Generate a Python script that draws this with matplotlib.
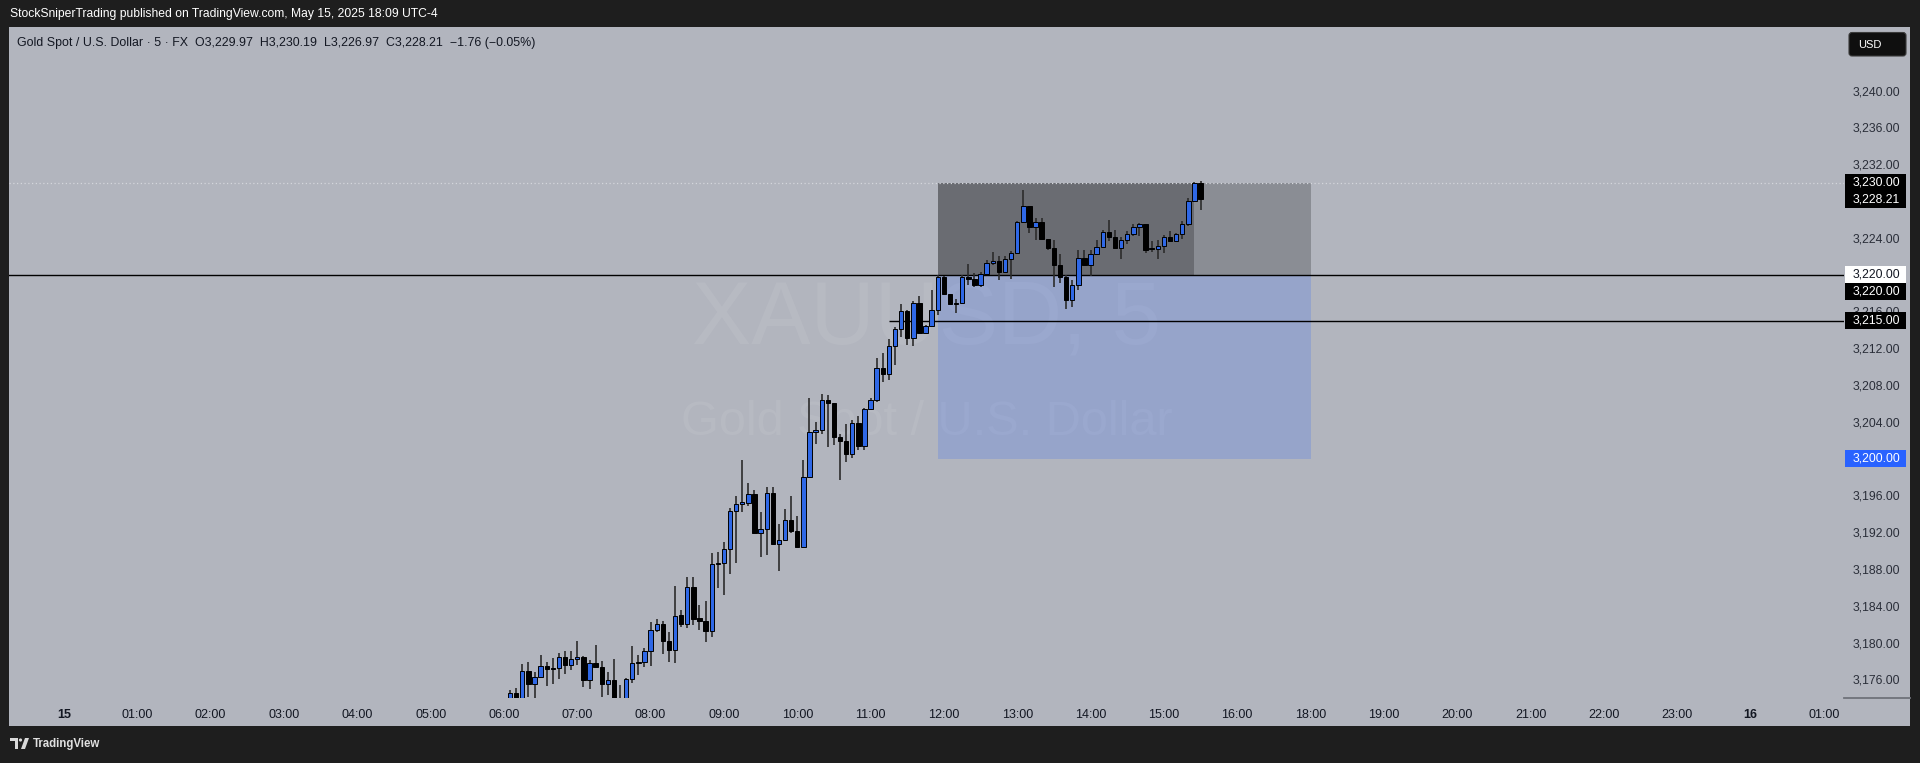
import matplotlib
matplotlib.use("Agg")
import matplotlib.pyplot as plt
import matplotlib.transforms as mtransforms
from matplotlib.patches import Rectangle, FancyBboxPatch, Polygon, Circle
import numpy as np

plt.rcParams['font.family'] = ['Liberation Sans', 'DejaVu Sans']

# ---------------- data ----------------
times = [
    "06:05", "06:10", "06:15", "06:20", "06:25", "06:30", "06:35", "06:40", "06:45", "06:50", "06:55",
    "07:00", "07:05", "07:10", "07:15", "07:20", "07:25", "07:30", "07:35", "07:40", "07:45", "07:50", "07:55",
    "08:00", "08:05", "08:10", "08:15", "08:20", "08:25", "08:30", "08:35", "08:40", "08:45", "08:50", "08:55",
    "09:00", "09:05", "09:10", "09:15", "09:20", "09:25", "09:30", "09:35", "09:40", "09:45", "09:50", "09:55",
    "10:00", "10:05", "10:10", "10:15", "10:20", "10:25", "10:30", "10:35", "10:40", "10:45", "10:50", "10:55",
    "11:00", "11:05", "11:10", "11:15", "11:20", "11:25", "11:30", "11:35", "11:40", "11:45", "11:50", "11:55",
    "12:00", "12:05", "12:10", "12:15", "12:20", "12:25", "12:30", "12:35", "12:40", "12:45", "12:50", "12:55",
    "13:00", "13:05", "13:10", "13:15", "13:20", "13:25", "13:30", "13:35", "13:40", "13:45", "13:50", "13:55",
    "14:00", "14:05", "14:10", "14:15", "14:20", "14:25", "14:30", "14:35", "14:40", "14:45", "14:50", "14:55",
    "15:00", "15:05", "15:10", "15:15", "15:20", "15:25", "15:30",
]
opens = [
    3173.6, 3174.5, 3173.6, 3176.9, 3175.5, 3176.3, 3177.5, 3177.2, 3177.2, 3178.4, 3177.6,
    3178.2, 3178.4, 3175.9, 3177.8, 3177.4, 3175.5, 3175.9, 3173.6, 3173.0, 3176.05, 3177.8, 3177.9,
    3179.1, 3181.4, 3182.0, 3180.2, 3179.2, 3183.0, 3182.0, 3186.0, 3182.7, 3182.3, 3181.3, 3188.5,
    3188.7, 3190.2, 3194.3, 3195.1, 3195.2, 3196.2, 3191.9, 3192.3, 3196.3, 3190.7, 3191.2, 3193.3,
    3192.1, 3190.4, 3198.0, 3202.9, 3203.1, 3206.4, 3206.0, 3202.3, 3201.9, 3200.5, 3203.9, 3201.4,
    3205.4, 3206.4, 3209.9, 3209.2, 3212.2, 3214.1, 3216.0, 3213.1, 3216.9, 3213.7, 3214.4, 3216.2,
    3219.7, 3217.9, 3216.8, 3216.9, 3219.7, 3219.5, 3218.9, 3220.1, 3221.3, 3221.5, 3220.3, 3221.7,
    3222.4, 3225.7, 3227.5, 3225.2, 3225.7, 3223.9, 3222.9, 3221.0, 3219.7, 3217.2, 3218.9, 3221.8,
    3221.0, 3222.2, 3223.0, 3224.6, 3224.1, 3222.9, 3223.8, 3224.4, 3225.2, 3225.5, 3222.85, 3222.8,
    3223.1, 3224.1, 3223.7, 3224.4, 3225.5, 3228.0, 3229.97,
]
highs = [
    3174.9, 3175.1, 3177.7, 3177.9, 3176.8, 3178.7, 3177.9, 3178.3, 3178.9, 3179.1, 3179.1,
    3180.2, 3178.5, 3178.1, 3179.7, 3178.0, 3176.8, 3178.2, 3175.4, 3176.1, 3179.6, 3178.7, 3179.4,
    3182.2, 3182.6, 3182.3, 3181.2, 3186.1, 3183.5, 3187.1, 3187.1, 3184.1, 3184.5, 3189.7, 3189.8,
    3190.9, 3194.6, 3195.9, 3199.8, 3197.3, 3196.6, 3194.2, 3196.9, 3196.9, 3192.9, 3194.5, 3195.9,
    3193.8, 3199.9, 3206.6, 3204.0, 3207.0, 3206.9, 3206.0, 3202.7, 3203.8, 3204.2, 3204.6, 3205.5,
    3206.6, 3210.9, 3211.5, 3213.0, 3214.3, 3216.8, 3216.2, 3217.1, 3217.7, 3214.5, 3218.3, 3220.0,
    3219.8, 3217.9, 3217.4, 3220.0, 3221.2, 3220.2, 3220.3, 3221.6, 3222.5, 3222.0, 3222.0, 3222.6,
    3225.8, 3229.2, 3227.5, 3226.2, 3226.2, 3223.9, 3223.8, 3222.2, 3220.0, 3219.4, 3222.7, 3222.7,
    3222.7, 3223.8, 3224.9, 3225.9, 3224.9, 3224.1, 3224.7, 3225.5, 3225.6, 3225.5, 3223.6, 3223.8,
    3224.3, 3224.7, 3224.5, 3225.8, 3228.3, 3230.1, 3230.19,
]
lows = [
    3173.2, 3173.2, 3173.4, 3174.1, 3173.9, 3176.1, 3175.3, 3175.5, 3176.0, 3176.6, 3177.0,
    3177.6, 3175.2, 3175.0, 3177.2, 3174.1, 3174.3, 3173.2, 3172.6, 3172.8, 3175.6, 3176.5, 3177.3,
    3177.5, 3181.2, 3178.8, 3177.9, 3177.8, 3181.7, 3181.6, 3181.9, 3181.4, 3180.1, 3180.6, 3185.9,
    3185.2, 3187.5, 3188.7, 3194.2, 3194.9, 3191.8, 3189.3, 3189.5, 3190.6, 3187.8, 3191.0, 3191.9,
    3190.4, 3190.4, 3198.0, 3201.6, 3202.7, 3201.3, 3201.5, 3197.7, 3199.6, 3200.1, 3200.9, 3200.9,
    3205.3, 3206.2, 3208.3, 3208.5, 3210.2, 3213.2, 3212.3, 3212.2, 3213.6, 3213.6, 3214.3, 3215.6,
    3217.8, 3216.8, 3215.8, 3216.8, 3218.9, 3218.6, 3218.6, 3220.1, 3221.0, 3219.4, 3220.2, 3219.5,
    3222.3, 3225.6, 3224.5, 3223.8, 3223.8, 3222.7, 3218.6, 3219.1, 3216.3, 3216.5, 3218.3, 3220.9,
    3219.8, 3222.1, 3222.9, 3223.7, 3222.9, 3221.7, 3223.3, 3224.2, 3224.2, 3222.4, 3222.5, 3221.7,
    3222.3, 3223.6, 3223.5, 3223.9, 3225.3, 3227.9, 3226.97,
]
closes = [
    3174.5, 3173.6, 3176.9, 3175.5, 3176.3, 3177.5, 3177.1, 3177.1, 3178.4, 3177.6, 3178.2,
    3178.4, 3175.9, 3177.8, 3177.4, 3175.5, 3175.9, 3173.7, 3173.0, 3176.05, 3177.8, 3177.9, 3179.1,
    3181.4, 3182.0, 3180.2, 3179.2, 3182.9, 3182.0, 3186.0, 3182.6, 3182.3, 3181.3, 3188.5, 3188.7,
    3190.2, 3194.3, 3195.1, 3195.3, 3196.2, 3191.9, 3192.3, 3196.3, 3190.7, 3191.2, 3193.3, 3192.1,
    3190.4, 3198.0, 3202.9, 3203.1, 3206.4, 3206.0, 3202.3, 3201.9, 3200.5, 3203.9, 3201.4, 3205.4,
    3206.4, 3209.9, 3209.2, 3212.2, 3214.1, 3216.0, 3213.1, 3216.9, 3213.7, 3214.4, 3216.2, 3219.7,
    3217.9, 3216.8, 3216.9, 3219.7, 3219.5, 3218.9, 3220.1, 3221.3, 3221.5, 3220.3, 3221.7, 3222.4,
    3225.7, 3227.5, 3225.2, 3225.7, 3223.9, 3222.9, 3221.0, 3219.7, 3217.2, 3218.9, 3221.8, 3221.0,
    3222.2, 3223.0, 3224.6, 3224.1, 3222.9, 3223.8, 3224.4, 3225.2, 3225.5, 3222.7, 3222.75, 3223.1,
    3224.1, 3223.7, 3224.4, 3225.5, 3228.0, 3229.97, 3228.21,
]

tick_hours = [0, 1, 2, 3, 4, 5, 6, 7, 8, 9, 10, 11, 12, 13, 14, 15, 16, 18, 19, 20, 21, 22, 23, 24, 25]
tick_labels = ["15", "01:00", "02:00", "03:00", "04:00", "05:00", "06:00", "07:00", "08:00", "09:00",
               "10:00", "11:00", "12:00", "13:00", "14:00", "15:00", "16:00", "18:00", "19:00", "20:00",
               "21:00", "22:00", "23:00", "16", "01:00"]
price_ticks = [3176, 3180, 3184, 3188, 3192, 3196, 3200, 3204, 3208, 3212, 3216, 3220, 3224, 3228,
               3232, 3236, 3240]

target_price = 3230.0
entry_price = 3220.0
stop_price = 3200.0
level_price = 3215.0
last_close = 3228.21
position_start = "11:55"
target_hit = "15:25"
position_end_hour = 18
level_start = "11:15"

header = "StockSniperTrading published on TradingView.com, May 15, 2025 18:09 UTC-4"
legend = "Gold Spot / U.S. Dollar \u00b7 5 \u00b7 FX  O3,229.97  H3,230.19  L3,226.97  C3,228.21  \u22121.76 (\u22120.05%)"

# ---------------- styling ----------------
W, H = 1920, 763
BG = '#b2b5be'
DARK = '#1e1e1e'
BLUE = '#2f68e6'
WICK = '#2c2c2c'


def slot_of_time(t):
    h, m = map(int, t.split(':'))
    return (h * 60 + m) // 5 - (12 if h >= 17 else 0)


def slot_of_hour(h):
    return h * 12 - (12 if h >= 17 else 0)


fig = plt.figure(figsize=(W / 100, H / 100), dpi=100, facecolor=DARK)


def fx(px):
    return px / W


def fy(py):
    return 1 - py / H


fig.add_artist(Rectangle((fx(9), fy(726)), fx(1910) - fx(9), fy(27) - fy(726),
                         transform=fig.transFigure, facecolor=BG, edgecolor='none', zorder=-5))

ax = fig.add_axes([fx(9), fy(698), fx(1844) - fx(9), fy(27) - fy(698)])
ax.set_facecolor(BG)
for s in ax.spines.values():
    s.set_visible(False)

ax.set_xlim(-9.0, 291.3)
ax.set_ylim(3173.98, 3246.91)

# watermark
ax.text(0.5, 0.562, "XAUUSD, 5", transform=ax.transAxes, ha='center', va='center',
        fontsize=64, color='white', alpha=0.07, zorder=0)
ax.text(0.5, 0.411, "Gold Spot / U.S. Dollar", transform=ax.transAxes, ha='center', va='center',
        fontsize=35, color='white', alpha=0.07, zorder=0)

# position tool boxes
x0 = slot_of_time(position_start)
xh = slot_of_time(target_hit)
x1 = slot_of_hour(position_end_hour)
ax.add_patch(Rectangle((x0, entry_price), xh - x0, target_price - entry_price,
                       facecolor='black', alpha=0.40, edgecolor='none', zorder=1))
ax.add_patch(Rectangle((xh, entry_price), x1 - xh, target_price - entry_price,
                       facecolor='black', alpha=0.22, edgecolor='none', zorder=1))
ax.add_patch(Rectangle((x0, stop_price), x1 - x0, entry_price - stop_price,
                       facecolor='#2962ff', alpha=0.20, edgecolor='none', zorder=1))

# lines
ax.axhline(target_price, color='#d4d6dc', lw=0.9, ls=(0, (1, 2)), zorder=2)
ax.axhline(entry_price, color='black', lw=1.0, zorder=2)
ax.hlines(level_price, slot_of_time(level_start), 291.3, color='black', lw=1.0, zorder=2)

# candles
x = np.array([slot_of_time(t) for t in times])
o = np.array(opens)
hi = np.array(highs)
lo = np.array(lows)
c = np.array(closes)
up = c >= o
body_bot = np.minimum(o, c)
body_h = np.maximum(np.abs(c - o), 0.12)
ax.vlines(x, lo, hi, color=WICK, lw=1.2, zorder=3)
ax.bar(x, body_h, bottom=body_bot, width=0.72,
       color=np.where(up, BLUE, 'black'), edgecolor='black', linewidth=0.7, zorder=4)

# axes ticks
ax.set_xticks([slot_of_hour(h) for h in tick_hours])
ax.set_xticklabels(tick_labels)
ax.tick_params(axis='x', length=0, pad=8, labelsize=9, labelcolor='#131722')
for lab in ax.get_xticklabels():
    if ':' not in lab.get_text():
        lab.set_fontweight('bold')

ax.yaxis.tick_right()
ax.set_yticks(price_ticks)
ax.set_yticklabels([f"{p:,.2f}" for p in price_ticks])
ax.tick_params(axis='y', length=0, pad=6.5, labelsize=8.8, labelcolor='#2a2e39')

# price tags
trans = mtransforms.blended_transform_factory(ax.transAxes, ax.transData)
axw = 1844 - 9
tag_x0 = (1845 - 9) / axw
tag_w = 61 / axw
tag_tx = (1853 - 9) / axw
tag_h = 17 / 9.2


def price_tag(yc, value, fc, tc):
    ax.add_patch(Rectangle((tag_x0, yc - tag_h / 2), tag_w, tag_h, transform=trans,
                           facecolor=fc, edgecolor='none', clip_on=False, zorder=6))
    ax.text(tag_tx, yc, f"{value:,.2f}", transform=trans, color=tc, fontsize=8.8,
            va='center', ha='left', clip_on=False, zorder=7)


price_tag(target_price, target_price, 'black', 'white')
price_tag(last_close, last_close, 'black', 'white')
price_tag(entry_price, entry_price, 'white', '#131722')
price_tag(entry_price - tag_h, entry_price, 'black', 'white')
price_tag(level_price, level_price, 'black', 'white')
price_tag(stop_price, stop_price, '#2962ff', 'white')

# overlay in pixel coordinates
ov = fig.add_axes([0, 0, 1, 1], zorder=10)
ov.set_xlim(0, W)
ov.set_ylim(H, 0)
ov.axis('off')
ov.patch.set_alpha(0)

ov.text(10, 13.5, header, color='white', fontsize=8.7, va='center', ha='left')
ov.text(17, 43, legend, color='#131722', fontsize=8.9, va='center', ha='left')

ov.add_patch(FancyBboxPatch((1849, 32.5), 57, 23.5, boxstyle='round,pad=0,rounding_size=3',
                            facecolor='#0f0f0f', edgecolor='#3a3a3a', lw=0.8))
ov.text(1858, 44.5, "USD", color='white', fontsize=8, va='center', ha='left')

ov.plot([1844, 1910], [698, 698], color='#6f727a', lw=1.3)

# TradingView logo
ov.add_patch(Polygon([(10, 738), (18, 738), (18, 749), (15, 749), (15, 741), (10, 741)],
                     closed=True, facecolor='#d9d9d9', edgecolor='none'))
ov.add_patch(Circle((20.5, 740), 1.6, facecolor='#d9d9d9', edgecolor='none'))
ov.add_patch(Polygon([(21, 749), (25, 738), (29, 738), (25, 749)],
                     closed=True, facecolor='#d9d9d9', edgecolor='none'))
ov.text(33, 743.5, "TradingView", color='#e0e0e0', fontsize=8.3, fontweight='bold',
        va='center', ha='left')

fig.savefig("out.png", dpi=100, facecolor=DARK)
